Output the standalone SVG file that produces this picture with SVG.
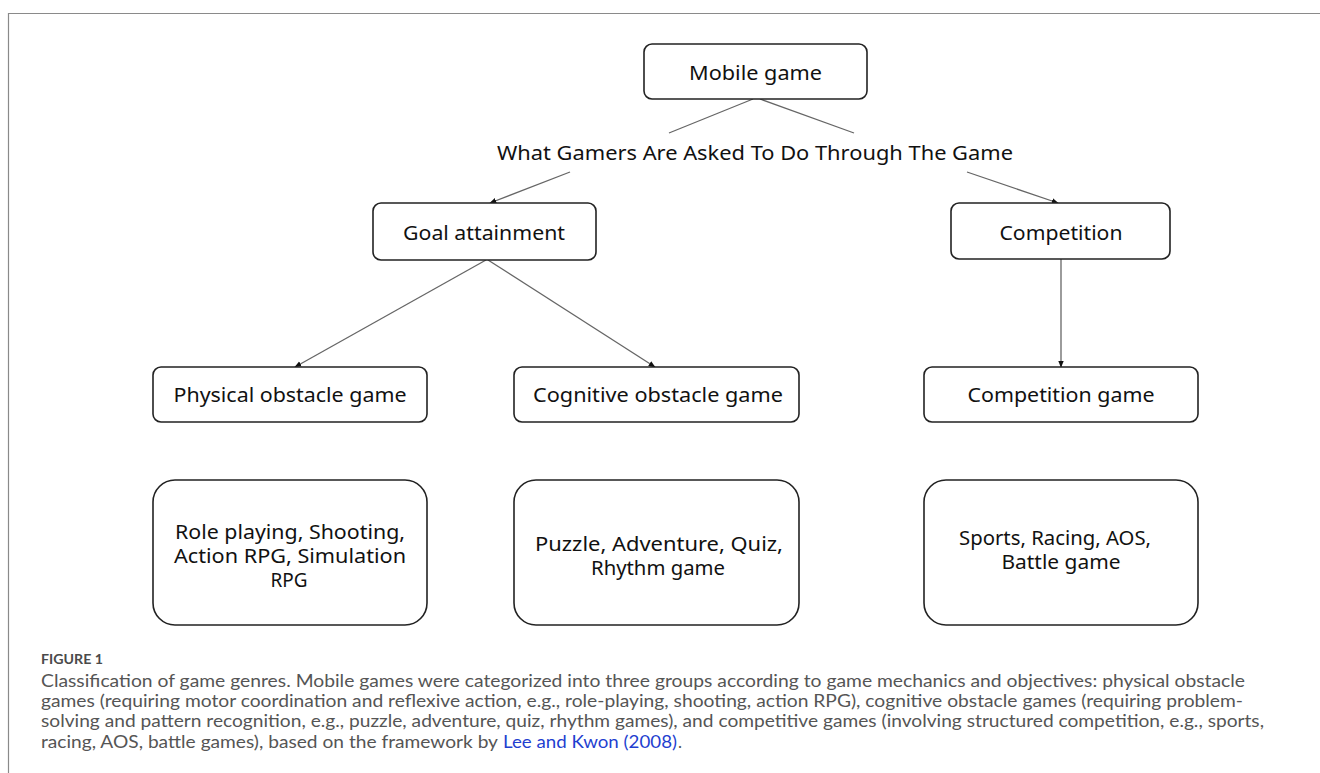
<svg xmlns="http://www.w3.org/2000/svg" width="1320" height="773" viewBox="0 0 1320 773">
<defs>
<marker id="ah" viewBox="0 0 10 10" refX="9" refY="5" markerWidth="7" markerHeight="7" orient="auto" markerUnits="userSpaceOnUse">
<path d="M0,1 L10,5 L0,9 Z" fill="#111"/>
</marker>
<style>
.box{fill:#fff;stroke:#222;stroke-width:1.6}
.lbl{font-family:"Noto Sans","Open Sans","Liberation Sans",sans-serif;font-size:20px;fill:#111;text-anchor:middle}
.ml{font-size:19px}
.con{stroke:#666;stroke-width:1.3;fill:none}
.cap{font-family:Lato,"Liberation Sans",sans-serif;font-size:17px;fill:#555}
.fig{font-family:Lato,"Liberation Sans",sans-serif;font-size:14px;font-weight:bold;fill:#4a4a4a}
.link{fill:#1f3fd0}
</style>
</defs>
<rect width="1320" height="773" fill="#fff"/>
<path d="M8.5,773 V13.5 H1320" stroke="#8a8a8a" stroke-width="1.2" fill="none"/>

<g id="connectors">
<line class="con" x1="753" y1="99" x2="669" y2="133"/>
<line class="con" x1="760" y1="99" x2="854" y2="133"/>
<line class="con" x1="570" y1="172" x2="490" y2="203" marker-end="url(#ah)"/>
<line class="con" x1="967" y1="172" x2="1058" y2="203" marker-end="url(#ah)"/>
<line class="con" x1="486" y1="260" x2="295" y2="367" marker-end="url(#ah)"/>
<line class="con" x1="488" y1="260" x2="655" y2="367" marker-end="url(#ah)"/>
<line class="con" x1="1061" y1="259" x2="1061" y2="367" marker-end="url(#ah)"/>
</g>

<g id="mobile-game">
<rect class="box" x="644" y="44" width="223" height="55" rx="8"/>
<text class="lbl" x="755.5" y="80" textLength="133" lengthAdjust="spacingAndGlyphs">Mobile game</text>
</g>
<g id="question">
<text class="lbl" x="755" y="160" textLength="516" lengthAdjust="spacingAndGlyphs">What Gamers Are Asked To Do Through The Game</text>
</g>
<g id="goal-attainment">
<rect class="box" x="373" y="203" width="223" height="57" rx="8"/>
<text class="lbl" x="484" y="240" textLength="162" lengthAdjust="spacingAndGlyphs">Goal attainment</text>
</g>
<g id="competition">
<rect class="box" x="951" y="203" width="219" height="56" rx="8"/>
<text class="lbl" x="1061" y="240" textLength="123" lengthAdjust="spacingAndGlyphs">Competition</text>
</g>
<g id="physical-obstacle-game">
<rect class="box" x="153" y="367" width="274" height="55" rx="8"/>
<text class="lbl" x="290" y="402" textLength="233" lengthAdjust="spacingAndGlyphs">Physical obstacle game</text>
</g>
<g id="cognitive-obstacle-game">
<rect class="box" x="514" y="367" width="285" height="55" rx="8"/>
<text class="lbl" x="658" y="402" textLength="250" lengthAdjust="spacingAndGlyphs">Cognitive obstacle game</text>
</g>
<g id="competition-game">
<rect class="box" x="924" y="367" width="274" height="55" rx="8"/>
<text class="lbl" x="1061" y="402" textLength="187" lengthAdjust="spacingAndGlyphs">Competition game</text>
</g>
<g id="physical-examples">
<rect class="box" x="153" y="480" width="274" height="145" rx="22"/>
<text class="lbl ml" x="290" y="539" textLength="230" lengthAdjust="spacingAndGlyphs">Role playing, Shooting,</text>
<text class="lbl ml" x="290" y="563" textLength="232" lengthAdjust="spacingAndGlyphs">Action RPG, Simulation</text>
<text class="lbl ml" x="289" y="587" textLength="37" lengthAdjust="spacingAndGlyphs">RPG</text>
</g>
<g id="cognitive-examples">
<rect class="box" x="514" y="480" width="285" height="145" rx="22"/>
<text class="lbl ml" x="659" y="551" textLength="248" lengthAdjust="spacingAndGlyphs">Puzzle, Adventure, Quiz,</text>
<text class="lbl ml" x="658" y="575" textLength="134" lengthAdjust="spacingAndGlyphs">Rhythm game</text>
</g>
<g id="competition-examples">
<rect class="box" x="924" y="480" width="274" height="145" rx="22"/>
<text class="lbl ml" x="1055" y="545" textLength="192" lengthAdjust="spacingAndGlyphs">Sports, Racing, AOS,</text>
<text class="lbl ml" x="1061" y="569" textLength="119" lengthAdjust="spacingAndGlyphs">Battle game</text>
</g>

<g id="caption">
<text class="fig" x="41" y="664" textLength="62" lengthAdjust="spacingAndGlyphs">FIGURE 1</text>
<text class="cap" x="41" y="687" textLength="1204" lengthAdjust="spacingAndGlyphs">Classification of game genres. Mobile games were categorized into three groups according to game mechanics and objectives: physical obstacle</text>
<text class="cap" x="41" y="707" textLength="1202" lengthAdjust="spacingAndGlyphs">games (requiring motor coordination and reflexive action, e.g., role-playing, shooting, action RPG), cognitive obstacle games (requiring problem-</text>
<text class="cap" x="41" y="727" textLength="1223" lengthAdjust="spacingAndGlyphs">solving and pattern recognition, e.g., puzzle, adventure, quiz, rhythm games), and competitive games (involving structured competition, e.g., sports,</text>
<text class="cap" x="41" y="748" textLength="457" lengthAdjust="spacingAndGlyphs">racing, AOS, battle games), based on the framework by</text>
<text class="cap link" x="503" y="748" textLength="174" lengthAdjust="spacingAndGlyphs">Lee and Kwon (2008)</text>
<text class="cap" x="678" y="748">.</text>
</g>
</svg>
